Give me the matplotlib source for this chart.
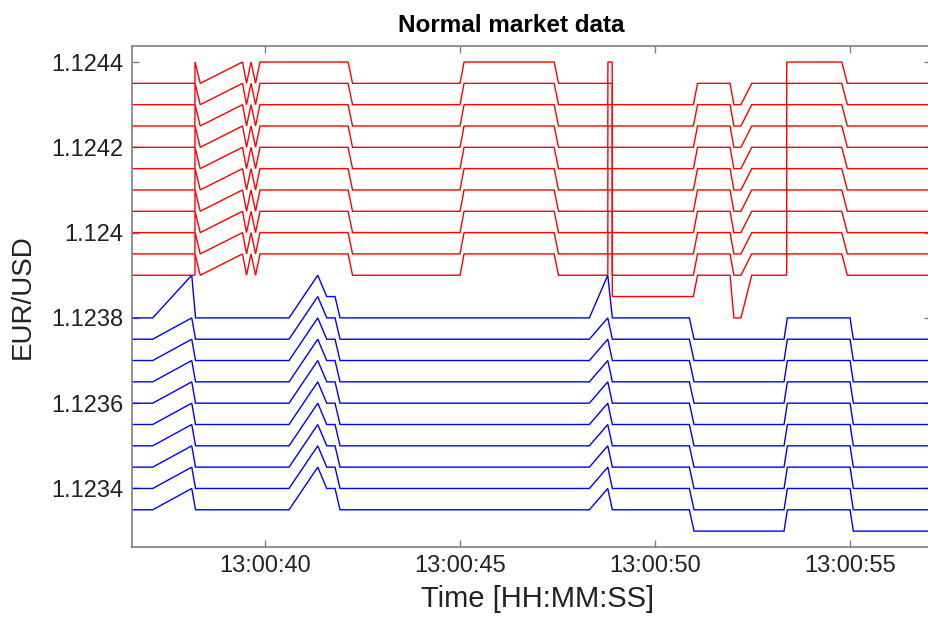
import matplotlib
matplotlib.use("Agg")
import matplotlib.pyplot as plt

plt.rcParams['font.family'] = ['Liberation Sans', 'DejaVu Sans']

# Ask ladder: ten price levels, one snapshot per state
ask_snapshots = {
    "base": [1.12435, 1.12430, 1.12425, 1.12420, 1.12415, 1.12410, 1.12405, 1.12400, 1.12395, 1.12390],
    "up":   [1.12440, 1.12435, 1.12430, 1.12425, 1.12420, 1.12415, 1.12410, 1.12405, 1.12400, 1.12395],
    "down": [1.12430, 1.12425, 1.12420, 1.12415, 1.12410, 1.12405, 1.12400, 1.12395, 1.12390, 1.12385],
    "dip":  [1.12430, 1.12425, 1.12420, 1.12415, 1.12410, 1.12405, 1.12400, 1.12395, 1.12390, 1.12380],
}
# seconds after 13:00:00
ask_times = [36.579, 38.198, 38.203, 38.336, 39.420, 39.523, 39.638, 39.754, 39.869,
             42.126, 42.241, 44.997, 45.100, 47.410, 47.523, 48.785, 48.790, 48.898,
             48.903, 50.980, 51.087, 51.920, 52.020, 52.200, 52.477, 53.370, 53.376,
             54.785, 54.928, 57.074]
ask_states = ["base", "base", "up", "base", "up", "base", "up", "base", "up",
              "up", "base", "base", "up", "up", "base", "base", "up", "up",
              "down", "down", "base", "base", "dip", "dip", "base", "base", "up",
              "up", "base", "base"]

# Bid ladder
bid_snapshots = {
    "base":  [1.12380, 1.12375, 1.12370, 1.12365, 1.12360, 1.12355, 1.12350, 1.12345, 1.12340, 1.12335],
    "spike": [1.12390, 1.12380, 1.12375, 1.12370, 1.12365, 1.12360, 1.12355, 1.12350, 1.12345, 1.12340],
    "up2":   [1.12390, 1.12385, 1.12380, 1.12375, 1.12370, 1.12365, 1.12360, 1.12355, 1.12350, 1.12345],
    "up1":   [1.12385, 1.12380, 1.12375, 1.12370, 1.12365, 1.12360, 1.12355, 1.12350, 1.12345, 1.12340],
    "down":  [1.12375, 1.12370, 1.12365, 1.12360, 1.12355, 1.12350, 1.12345, 1.12340, 1.12335, 1.12330],
}
bid_times = [36.579, 37.118, 38.118, 38.215, 40.613, 41.349, 41.579, 41.792, 41.920,
             48.313, 48.785, 48.903, 50.877, 50.997, 53.305, 53.390, 54.997, 55.082, 57.074]
bid_states = ["base", "base", "spike", "base", "base", "up2", "up1", "up1", "base",
              "base", "spike", "base", "base", "down", "down", "base", "base", "down", "down"]

x_ticks = [40, 45, 50, 55]
x_tick_labels = ["13:00:40", "13:00:45", "13:00:50", "13:00:55"]
y_ticks = [1.1234, 1.1236, 1.1238, 1.1240, 1.1242, 1.1244]
y_tick_labels = ["1.1234", "1.1236", "1.1238", "1.124", "1.1242", "1.1244"]

fig = plt.figure(figsize=(9.29, 6.17), dpi=100)
ax = fig.add_axes([0.1418, 0.1135, 0.8604, 0.8119])

n_levels = len(ask_snapshots["base"])
for k in range(n_levels):
    ax.plot(ask_times, [ask_snapshots[s][k] for s in ask_states],
            color="#ff0000", lw=1.0, solid_joinstyle="miter")
for k in range(n_levels):
    ax.plot(bid_times, [bid_snapshots[s][k] for s in bid_states],
            color="#0000ff", lw=1.0, solid_joinstyle="miter")

ax.set_xlim(36.579, 57.074)
ax.set_ylim(1.1232628, 1.1244375)
ax.set_xticks(x_ticks)
ax.set_xticklabels(x_tick_labels)
ax.set_yticks(y_ticks)
ax.set_yticklabels(y_tick_labels)

spine_color = "#7f7f7f"
for sp in ax.spines.values():
    sp.set_color(spine_color)
    sp.set_linewidth(1.2)
ax.tick_params(direction="in", length=5, width=1.0, color=spine_color,
               top=True, right=True, labelsize=17, labelcolor="#222222", pad=6)

ax.set_xlabel("Time [HH:MM:SS]", fontsize=21, color="#222222", labelpad=4)
ax.xaxis.set_label_coords(0.508, -0.075)
ax.set_ylabel("EUR/USD", fontsize=20, color="#222222", labelpad=8)
ax.yaxis.set_label_coords(-0.120, 0.5)
ax.set_title("Normal market data", fontsize=17.5, fontweight="bold", pad=10, x=0.475)

fig.savefig("out.png", dpi=100)
